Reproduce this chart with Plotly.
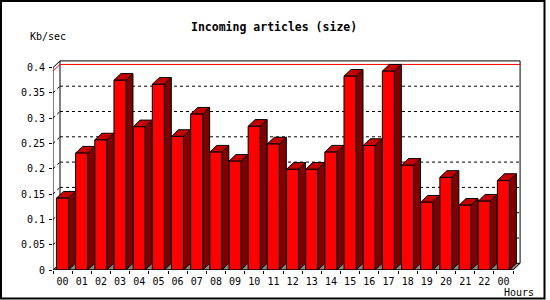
import plotly.graph_objects as go

# ---- data ----
hours = ["00", "01", "02", "03", "04", "05", "06", "07", "08", "09", "10", "11",
         "12", "13", "14", "15", "16", "17", "18", "19", "20", "21", "22", "00"]
kb_per_sec = [0.142, 0.231, 0.257, 0.375, 0.283, 0.367, 0.264, 0.308, 0.233, 0.215,
              0.284, 0.249, 0.199, 0.199, 0.233, 0.383, 0.246, 0.393, 0.207, 0.134,
              0.183, 0.128, 0.136, 0.177]
y_ticks = [0, 0.05, 0.1, 0.15, 0.2, 0.25, 0.3, 0.35, 0.4]
y_tick_text = ["0", "0.05", "0.1", "0.15", "0.2", "0.25", "0.3", "0.35", "0.4"]
title = "Incoming articles (size)"
y_title = "Kb/sec"
x_title = "Hours"

# ---- geometry (pixel based) ----
W, H = 550, 300
PL, PR, PT, PB = 53, 521, 60, 270          # plot area in px
SLOT = 19.17                                # px per category
PXV = 506.0                                 # px per unit value
xr = [-0.5, -0.5 + (PR - PL) / SLOT]
yr = [0, (PB - PT) / PXV]
DX = 7.0 / SLOT                             # depth offset in x data units
DY = 6.7 / PXV                              # depth offset in y data units
FL, FR = -0.32, 0.306                       # bar front left/right offsets

n = len(hours)
xs = list(range(n))
vmax = max(kb_per_sec)
FONT = "DejaVu Sans Mono"

fig = go.Figure()

front_x, front_y, side_x, side_y, top_x, top_y = [], [], [], [], [], []
for i, v in zip(xs, kb_per_sec):
    L, R = i + FL, i + FR
    front_x += [L, R, R, L, L, None]
    front_y += [0, 0, v, v, 0, None]
    side_x += [R, R + DX, R + DX, R, R, None]
    side_y += [0, DY, v + DY, v, 0, None]
    top_x += [L, R, R + DX, L + DX, L, None]
    top_y += [v, v, v + DY, v + DY, v, None]

for px, py, col in [(side_x, side_y, "#800000"), (top_x, top_y, "#C40000"),
                    (front_x, front_y, "#FF0000")]:
    fig.add_trace(go.Scatter(x=px, y=py, mode="lines", fill="toself",
                             fillcolor=col, line=dict(color="black", width=1),
                             hoverinfo="skip", showlegend=False))

shapes = []
x0b, x1b = -0.5 + DX, n - 0.5 + DX
# floor
shapes.append(dict(type="path", layer="below",
                   path=f"M -0.5 0 L {x0b} {DY} L {x1b} {DY} L {n-0.5} 0 Z",
                   fillcolor="#888888", line=dict(color="black", width=1),
                   xref="x", yref="y"))
# dotted grid lines on back wall + left wall diagonals
for v in y_ticks[1:-1]:
    shapes.append(dict(type="line", layer="below", xref="x", yref="y",
                       x0=x0b, x1=x1b, y0=v + DY, y1=v + DY,
                       line=dict(color="black", width=1, dash="dot")))
    shapes.append(dict(type="line", layer="below", xref="x", yref="y",
                       x0=-0.5, x1=x0b, y0=v, y1=v + DY,
                       line=dict(color="black", width=1, dash="dot")))
top = y_ticks[-1]
# back wall frame
shapes.append(dict(type="path", layer="below", xref="x", yref="y",
                   path=f"M {x0b} {DY} L {x0b} {top+DY} L {x1b} {top+DY} L {x1b} {DY}",
                   line=dict(color="black", width=1)))
# left front axis and diagonal to back
shapes.append(dict(type="line", layer="below", xref="x", yref="y",
                   x0=-0.5, x1=-0.5, y0=0, y1=top, line=dict(color="black", width=1)))
shapes.append(dict(type="line", layer="below", xref="x", yref="y",
                   x0=-0.5, x1=x0b, y0=top, y1=top + DY, line=dict(color="black", width=1)))
# max line (red)
shapes.append(dict(type="line", layer="below", xref="x", yref="y",
                   x0=x0b, x1=x1b, y0=vmax + DY, y1=vmax + DY,
                   line=dict(color="red", width=1)))
shapes.append(dict(type="line", layer="below", xref="x", yref="y",
                   x0=-0.5, x1=x0b, y0=vmax, y1=vmax + DY,
                   line=dict(color="red", width=1)))
# front bottom line
shapes.append(dict(type="line", layer="above", xref="x", yref="y",
                   x0=-0.5, x1=n - 0.5, y0=0, y1=0, line=dict(color="black", width=1)))
# outer frame
def px2paper_x(p):
    return (p - PL) / (PR - PL)
def px2paper_y(p):
    return (PB - p) / (PB - PT)
shapes.append(dict(type="rect", xref="paper", yref="paper",
                   x0=px2paper_x(1), x1=px2paper_x(544.5),
                   y0=px2paper_y(298.5), y1=px2paper_y(1),
                   line=dict(color="black", width=2), fillcolor="rgba(0,0,0,0)"))

annotations = [
    dict(text=f"<b>{title}</b>", xref="paper", yref="paper",
         x=px2paper_x(274), y=px2paper_y(27), showarrow=False,
         font=dict(family=FONT, size=11.5, color="black"),
         xanchor="center", yanchor="middle"),
    dict(text=y_title, xref="paper", yref="paper",
         x=px2paper_x(47.5), y=px2paper_y(37), showarrow=False,
         font=dict(family=FONT, size=10, color="black"),
         xanchor="center", yanchor="middle"),
    dict(text=x_title, xref="paper", yref="paper",
         x=px2paper_x(519), y=px2paper_y(292.5), showarrow=False,
         font=dict(family=FONT, size=10, color="black"),
         xanchor="center", yanchor="middle"),
]

fig.update_layout(
    width=W, height=H, autosize=False,
    margin=dict(l=PL, r=W - PR, t=PT, b=H - PB, pad=0),
    paper_bgcolor="white", plot_bgcolor="white",
    shapes=shapes, annotations=annotations, showlegend=False,
    font=dict(family=FONT, size=10, color="black"),
    xaxis=dict(range=xr, tickmode="array", tickvals=xs, ticktext=hours,
               ticks="", showgrid=False, zeroline=False, showline=False,
               ticklabelstandoff=4,
               tickfont=dict(family=FONT, size=10, color="black"),
               minor=dict(tickmode="array", tickvals=[i - 0.5 for i in range(n + 1)],
                          ticks="outside", ticklen=3, tickcolor="black", showgrid=False),
               fixedrange=True),
    yaxis=dict(range=yr, tickmode="array", tickvals=y_ticks, ticktext=y_tick_text,
               ticks="outside", ticklen=3, tickcolor="black",
               showgrid=False, zeroline=False, showline=False,
               ticklabelstandoff=2,
               tickfont=dict(family=FONT, size=10, color="black"),
               fixedrange=True),
)

fig.write_html("out.html")
